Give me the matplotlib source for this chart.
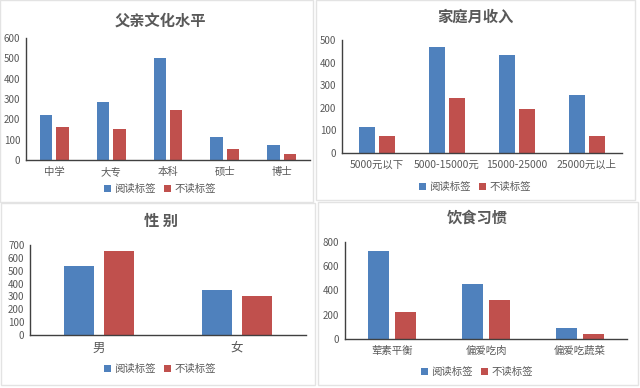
import numpy as np
import matplotlib
matplotlib.use("Agg")
import matplotlib.pyplot as plt
from matplotlib.patches import Rectangle

plt.rcParams["font.family"] = ["Noto Sans CJK SC", "DejaVu Sans"]

W, H = 640, 388

# data
edu_cats = ["中学", "大专", "本科", "硕士", "博士"]
edu_read = [222, 284, 502, 115, 75]
edu_noread = [160, 154, 246, 52, 28]

income_cats = ["5000元以下", "5000-15000元", "15000-25000", "25000元以上"]
income_read = [117, 469, 432, 258]
income_noread = [75, 242, 195, 75]

gender_cats = ["男", "女"]
gender_read = [540, 347]
gender_noread = [654, 306]

diet_cats = ["荤素平衡", "偏爱吃肉", "偏爱吃蔬菜"]
diet_read = [726, 452, 93]
diet_noread = [222, 318, 41]

series_names = ["阅读标签", "不读标签"]
BLUE = "#4F81BD"
RED = "#C0504D"
GREY = "#595959"


def px_axes(fig, left, top, right, bottom):
    return fig.add_axes([left / W, 1 - bottom / H, (right - left) / W, (bottom - top) / H])


def panel(fig, box, rect, title, title_xy, legend_xy, cats, read, noread, ymax, ystep,
          cat_size=7.5):
    # faint frame round each chart
    x0, y0, x1, y1 = box
    fig.add_artist(Rectangle((x0 / W, 1 - y1 / H), (x1 - x0) / W, (y1 - y0) / H,
                             transform=fig.transFigure, fill=False,
                             ec="#e3e3e3", lw=1))
    ax = px_axes(fig, *rect)
    x = np.arange(len(cats))
    ax.bar(x - 0.145, read, width=0.22, color=BLUE, label=series_names[0])
    ax.bar(x + 0.145, noread, width=0.22, color=RED, label=series_names[1])
    ax.set_xlim(-0.5, len(cats) - 0.5)
    ax.set_ylim(0, ymax)
    ax.set_yticks(np.arange(0, ymax + 1, ystep))
    ax.set_xticks(x)
    ax.set_xticklabels(cats)
    ax.tick_params(axis="y", length=0, pad=4, labelsize=7, labelcolor=GREY)
    ax.tick_params(axis="x", length=0, pad=5, labelsize=cat_size, labelcolor=GREY)
    for s in ["top", "right"]:
        ax.spines[s].set_visible(False)
    for s in ["left", "bottom"]:
        ax.spines[s].set_color("#404040")
        ax.spines[s].set_linewidth(1)
    fig.text(title_xy[0] / W, 1 - title_xy[1] / H, title, ha="center", va="center",
             fontsize=11, fontweight="bold", color=GREY)
    ax.legend(loc="center", bbox_to_anchor=(legend_xy[0] / W, 1 - legend_xy[1] / H),
              bbox_transform=fig.transFigure, ncol=2, frameon=False,
              handlelength=0.7, handleheight=0.7, handletextpad=0.3,
              columnspacing=0.8, fontsize=7.5, labelcolor=GREY)
    return ax


fig = plt.figure(figsize=(W / 100, H / 100), dpi=100)

panel(fig, (0, 0, 313, 202), (26, 38, 310, 160), "父亲文化水平", (160, 22), (160, 189),
      edu_cats, edu_read, edu_noread, 600, 100)
panel(fig, (316, 0, 635, 200), (342, 40, 622, 153), "家庭月收入", (475, 17), (475, 187),
      income_cats, income_read, income_noread, 500, 100)
panel(fig, (1, 203, 315, 385), (30, 245, 306, 335), "性 别", (161, 221), (160, 369),
      gender_cats, gender_read, gender_noread, 700, 100, cat_size=9)
panel(fig, (318, 202, 638, 385), (345, 242, 627, 339), "饮食习惯", (477, 218), (477, 372),
      diet_cats, diet_read, diet_noread, 800, 200)

fig.savefig("out.png", dpi=100)
